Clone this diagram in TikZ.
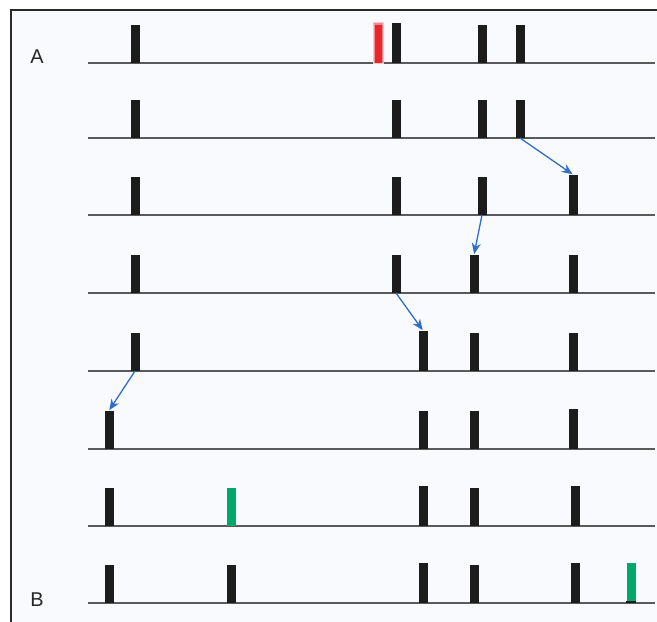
\documentclass[tikz,border=0pt]{standalone}
\usepackage{fontspec}
\setmainfont{Liberation Sans}
\usetikzlibrary{arrows.meta}
\definecolor{bgblue}{HTML}{F8FAFD}
\definecolor{framegray}{HTML}{2A2A2A}
\definecolor{basegray}{HTML}{5A5A5A}
\definecolor{barblack}{HTML}{1C1C1C}
\definecolor{mutred}{HTML}{E8262B}
\definecolor{mutgreen}{HTML}{00A86A}
\definecolor{arrowblue}{HTML}{2F6FC8}
\tikzset{
  bar/.style={rectangle, inner sep=0pt, minimum width=9bp, minimum height=38bp, anchor=south, fill=barblack, draw=none},
  tallbar/.style={bar, minimum height=40bp},
  redbar/.style={bar, fill=mutred, minimum width=7bp},
  greenbar/.style={bar, fill=mutgreen, minimum height=40bp},
  baseline/.style={draw=basegray, line width=1.3bp},
  move/.style={draw=arrowblue, line width=1.3bp, -{Stealth[length=11bp, width=9bp]}, shorten >=0.5bp},
  lbl/.style={font=\fontsize{20}{20}\selectfont, text=black!85, inner sep=0pt}
}
\begin{document}
\begin{tikzpicture}[x=1bp, y=-1bp]
\useasboundingbox (0,0) rectangle (657,622);
\fill[white] (0,0) rectangle (657,622);
\fill[bgblue] (11,10) rectangle (657,622);
\draw[framegray, line width=1.6bp] (11,622) -- (11,10) -- (657,10);

% baselines
\foreach \y in {63,138,215,293,371,449,526,603}
  \draw[baseline] (88,\y) -- (655,\y);

% labels
\node[lbl] (labA) at (37,57) {A};
\node[lbl] (labB) at (37,600) {B};

% row 1
\node[bar] (r1a) at (135,63) {};
\fill[mutred!25] (372.5,22) rectangle (383.5,64.5);
\fill[mutred!55] (373.5,23.5) rectangle (382.5,63.5);
\node[redbar] (r1red) at (378,63) {};
\node[tallbar] (r1b) at (396,63) {};
\node[bar] (r1c) at (482,63) {};
\node[bar] (r1d) at (520,63) {};

% row 2
\node[bar] (r2a) at (135,138) {};
\node[bar] (r2b) at (396,138) {};
\node[bar] (r2c) at (482,138) {};
\node[bar] (r2d) at (520,138) {};

% row 3
\node[bar] (r3a) at (135,215) {};
\node[bar] (r3b) at (396,215) {};
\node[bar] (r3c) at (482,215) {};
\node[tallbar] (r3d) at (573,215) {};

% row 4
\node[bar] (r4a) at (135,293) {};
\node[bar] (r4b) at (396,293) {};
\node[bar] (r4c) at (474,293) {};
\node[bar] (r4d) at (573,293) {};

% row 5
\node[bar] (r5a) at (135,371) {};
\node[tallbar] (r5b) at (423,371) {};
\node[bar] (r5c) at (474,371) {};
\node[bar] (r5d) at (573,371) {};

% row 6
\node[bar] (r6a) at (109,449) {};
\node[bar] (r6b) at (423,449) {};
\node[bar] (r6c) at (474,449) {};
\node[tallbar] (r6d) at (573,449) {};

% row 7
\node[bar] (r7a) at (109,526) {};
\node[greenbar, minimum height=38bp] (r7g) at (231,526) {};
\node[tallbar] (r7b) at (423,526) {};
\node[bar] (r7c) at (474,526) {};
\node[tallbar] (r7d) at (575,526) {};

% row 8
\node[bar] (r8a) at (109,603) {};
\node[bar] (r8g) at (231,603) {};
\node[tallbar] (r8b) at (423,603) {};
\node[bar] (r8c) at (474,603) {};
\node[tallbar] (r8d) at (575,603) {};
\node[greenbar] (r8new) at (631,603) {};
\fill[barblack] (r8new.south west) rectangle ([yshift=2bp]r8new.south east);

% moves
\draw[move] (r2d.south) -- (r3d.north);
\draw[move] (r3c.south) -- (r4c.north);
\draw[move] (r4b.south) -- (r5b.north);
\draw[move] (r5a.south) -- (r6a.north);
\end{tikzpicture}
\end{document}
